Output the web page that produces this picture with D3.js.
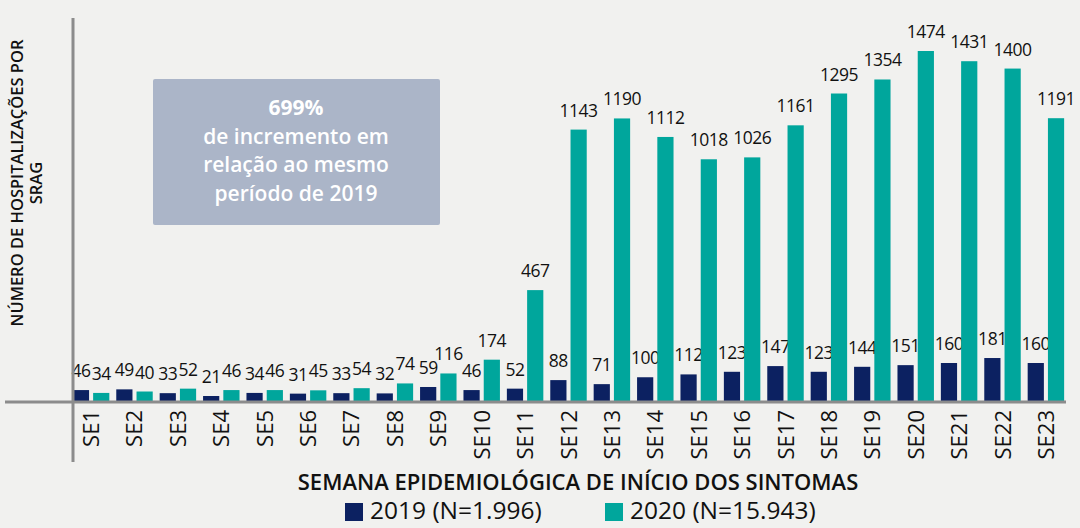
<!DOCTYPE html>
<html lang="pt">
<head>
<meta charset="utf-8">
<title>Hospitalizações por SRAG</title>
<script src="https://d3js.org/d3.v7.min.js"></script>
<style>
  body { margin: 0; background: #f1f1ef; }
  svg { display: block; font-family: "Open Sans", "Noto Sans", sans-serif; }
  .val { font-size: 17.5px; fill: #111; letter-spacing: -0.5px; }
</style>
</head>
<body>
<script>
// data
var weeks = ["SE1","SE2","SE3","SE4","SE5","SE6","SE7","SE8","SE9","SE10","SE11","SE12",
             "SE13","SE14","SE15","SE16","SE17","SE18","SE19","SE20","SE21","SE22","SE23"];
var v2019 = [46,49,33,21,34,31,33,32,59,46,52,88,71,100,112,123,147,123,144,151,160,181,160];
var v2020 = [34,40,52,46,46,45,54,74,116,174,467,1143,1190,1112,1018,1026,1161,1295,1354,1474,1431,1400,1191];
var seriesNames = ["2019 (N=1.996)", "2020 (N=15.943)"];
var colors = ["#0c2161", "#00a69c"];

var w = 1080, h = 528;
var plotLeft = 72, plotRight = 1065, baseY = 401, topY = 51;

var svg = d3.select("body").append("svg").attr("width", w).attr("height", h);

var x = d3.scaleBand().domain(weeks).range([plotLeft, plotRight]).paddingInner(0.16).paddingOuter(0.02);
var xs = d3.scaleBand().domain([0, 1]).range([0, x.bandwidth()]).paddingInner(0.2);
var y = d3.scaleLinear().domain([0, 1474]).range([baseY, topY]);

// bars
var groups = svg.selectAll("g.wk").data(weeks).enter().append("g")
  .attr("class", "wk")
  .attr("transform", function(d){ return "translate(" + x(d) + ",0)"; });

[v2019, v2020].forEach(function(vals, s){
  groups.append("rect")
    .attr("x", xs(s))
    .attr("width", xs.bandwidth())
    .attr("y", function(d, i){ return y(vals[i]); })
    .attr("height", function(d, i){ return baseY - y(vals[i]); })
    .attr("fill", colors[s]);
  groups.append("text")
    .attr("class", "val")
    .attr("x", xs(s) + xs.bandwidth() / 2)
    .attr("y", function(d, i){ return y(vals[i]) - 13; })
    .attr("text-anchor", "middle")
    .text(function(d, i){ return vals[i]; });
});

// axes lines
svg.append("line").attr("x1", 73).attr("x2", 73).attr("y1", 18).attr("y2", 462)
  .attr("stroke", "#8c8c8c").attr("stroke-width", 3);
svg.append("line").attr("x1", 5).attr("x2", 1066).attr("y1", baseY + 1).attr("y2", baseY + 1)
  .attr("stroke", "#8c8c8c").attr("stroke-width", 3);

// week labels
svg.selectAll("text.wl").data(weeks).enter().append("text")
  .attr("class", "wl")
  .attr("transform", function(d){ return "translate(" + (x(d) + x.bandwidth() / 2 + 8) + "," + 410 + ") rotate(-90)"; })
  .attr("text-anchor", "end")
  .style("font-size", "22px")
  .style("fill", "#111")
  .text(function(d){ return d; });

// x title
svg.append("text").attr("x", 578).attr("y", 490).attr("text-anchor", "middle")
  .style("font-size", "22px").style("font-weight", "600").style("fill", "#111")
  .text("SEMANA EPIDEMIOLÓGICA DE INÍCIO DOS SINTOMAS");

// y title
var yt = svg.append("text")
  .attr("transform", "translate(23,183) rotate(-90)")
  .attr("text-anchor", "middle")
  .style("font-size", "16.5px").style("font-weight", "600").style("fill", "#111");
yt.append("tspan").attr("x", 0).attr("dy", 0).text("NÚMERO DE HOSPITALIZAÇÕES POR");
yt.append("tspan").attr("x", 0).attr("dy", 19).text("SRAG");

// legend
var legX = [345, 605];
seriesNames.forEach(function(n, i){
  svg.append("rect").attr("x", legX[i]).attr("y", 503).attr("width", 18).attr("height", 18).attr("fill", colors[i]);
  svg.append("text").attr("x", legX[i] + 25).attr("y", 519)
    .style("font-size", "24.5px").style("fill", "#111").text(n);
});

// annotation box
svg.append("rect").attr("x", 153).attr("y", 79).attr("width", 287).attr("height", 146)
  .attr("rx", 2).attr("fill", "#abb5c8");
var boxLines = ["699%", "de incremento em", "relação ao mesmo", "período de 2019"];
svg.selectAll("text.box").data(boxLines).enter().append("text")
  .attr("class", "box")
  .attr("x", 296)
  .attr("y", function(d, i){ return 115 + i * 28.5; })
  .attr("text-anchor", "middle")
  .style("font-size", "21px")
  .style("font-weight", function(d, i){ return i === 0 ? "700" : "600"; })
  .style("fill", "#fff")
  .text(function(d){ return d; });
</script>
</body>
</html>
